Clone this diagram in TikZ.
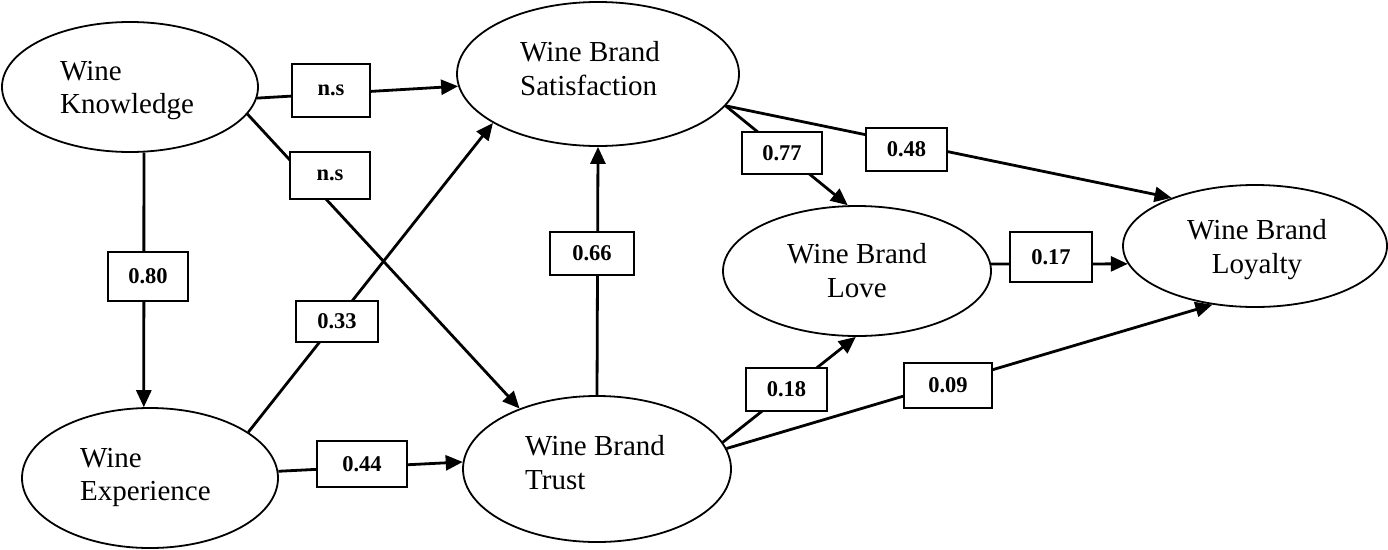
\documentclass[tikz,border=0pt]{standalone}
\usepackage{fontspec}
\setmainfont{Liberation Serif}
\usetikzlibrary{shapes.geometric,arrows.meta}
\begin{document}
\begin{tikzpicture}[x=1pt,y=-1pt,
  latent/.style={ellipse,draw,line width=1.8pt,inner sep=0pt},
  lbl/.style={inner sep=0pt,font=\fontsize{29}{34}\selectfont},
  coef/.style={rectangle,draw,fill=white,line width=1.9pt,inner sep=0pt,font=\fontsize{22.5}{25}\selectfont\bfseries},
  conn/.style={line width=2.8pt,-{Triangle[length=17pt,width=15pt]}}
]
\fill[white] (0,0) rectangle (1388,549);
\useasboundingbox (0,0) rectangle (1388,549);

% latent variables
\node[latent, minimum width=256pt, minimum height=130pt] (K) at (130,87) {};
\node[latent, minimum width=282pt, minimum height=144pt] (S) at (598,74) {};
\node[latent, minimum width=256pt, minimum height=140pt] (E) at (150,478) {};
\node[latent, minimum width=268pt, minimum height=146pt] (T) at (597,469) {};
\node[latent, minimum width=268pt, minimum height=130pt] (L) at (857,271) {};
\node[latent, minimum width=264pt, minimum height=122pt] (Y) at (1255,246) {};

% texts
\node[lbl, anchor=base west] (K1) at (60,80) {Wine};
\node[lbl, anchor=base west] (K2) at (60,113) {Knowledge};
\node[lbl, anchor=base west] (S1) at (520,61) {Wine Brand};
\node[lbl, anchor=base west] (S2) at (520,95) {Satisfaction};
\node[lbl, anchor=base west] (E1) at (80,467) {Wine};
\node[lbl, anchor=base west] (E2) at (80,500) {Experience};
\node[lbl, anchor=base west] (T1) at (525,455) {Wine Brand};
\node[lbl, anchor=base west] (T2) at (525,489) {Trust};
\node[lbl, anchor=base] (L1) at (857,263) {Wine Brand};
\node[lbl, anchor=base] (L2) at (857,297) {Love};
\node[lbl, anchor=base] (Y1) at (1257,239) {Wine Brand};
\node[lbl, anchor=base] (Y2) at (1257,273) {Loyalty};

% connectors
\draw[conn] (K.-5) -- (S.185.7);
\draw[conn] (K.-13.9) -- (T.142.5);
\draw[conn] (K.-78.7) -- (E.95.7);
\draw[conn] (E.25.8) -- (S.-155.9);
\draw[conn] (E.3.5) -- (T.177.4);
\draw[conn] (T.north) -- (S.south);
\draw[conn] (S.-14.7) -- (L.98.6);
\draw[conn] (S.-14.7) -- (Y.150);
\draw[conn] (L.3) -- (Y.188.2);
\draw[conn] (T.12.2) -- (L.-91.7);
\draw[conn] (T.9.5) -- (Y.-126.4);

% coefficients
\node[coef, minimum width=78pt, minimum height=53pt] (c1) at (331,90.5) {n.s};
\node[coef, minimum width=80pt, minimum height=47pt] (c2) at (330,175.5) {n.s};
\node[coef, minimum width=80pt, minimum height=49pt] (c3) at (148,276.5) {0.80};
\node[coef, minimum width=82pt, minimum height=41pt] (c4) at (337,321.5) {0.33};
\node[coef, minimum width=90pt, minimum height=46pt] (c5) at (362,464) {0.44};
\node[coef, minimum width=84pt, minimum height=43pt] (c6) at (592,253.5) {0.66};
\node[coef, minimum width=80pt, minimum height=42pt] (c7) at (782,153) {0.77};
\node[coef, minimum width=81pt, minimum height=43pt] (c8) at (906.5,149.5) {0.48};
\node[coef, minimum width=82pt, minimum height=50pt] (c9) at (1051,257) {0.17};
\node[coef, minimum width=81pt, minimum height=43pt] (c10) at (786.5,389.5) {0.18};
\node[coef, minimum width=88pt, minimum height=45pt] (c11) at (948,385.5) {0.09};
\end{tikzpicture}
\end{document}
